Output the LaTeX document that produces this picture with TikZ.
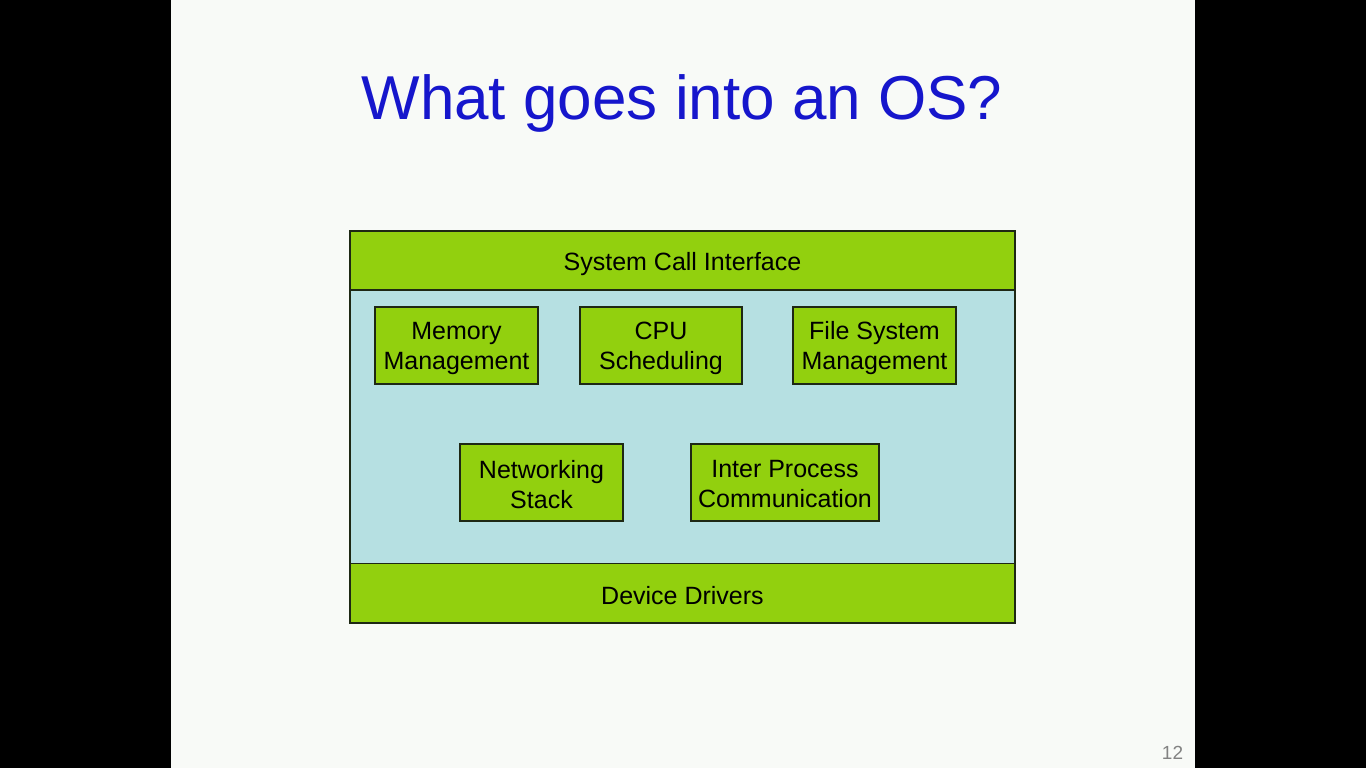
\documentclass[tikz,border=0pt]{standalone}
\usepackage{fontspec}
\setmainfont{Liberation Sans}
\definecolor{slidebg}{RGB}{248,250,247}
\definecolor{layergreen}{RGB}{146,208,14}
\definecolor{kernelblue}{RGB}{182,224,226}
\definecolor{titleblue}{RGB}{22,22,204}
\definecolor{edgedark}{RGB}{30,40,20}
\definecolor{pagegrey}{RGB}{130,130,130}
\tikzset{
  greenbox/.style={draw=edgedark, line width=1.2pt, fill=layergreen, inner sep=0pt},
  layerbar/.style={greenbox, minimum width=665, minimum height=59},
  modbox/.style={greenbox, minimum height=77},
  boxtext/.style={align=center, font=\fontsize{25}{30}\selectfont, text=black, inner sep=0pt},
}
\begin{document}
\begin{tikzpicture}[x=1pt,y=-1pt]
  \useasboundingbox (0,0) rectangle (1366,768);
  % screen frame and slide
  \fill[black] (0,0) rectangle (1366,768);
  \fill[slidebg] (171,0) rectangle (1195,768);

  % title
  \node[text=titleblue, font=\fontsize{62}{70}\selectfont, anchor=base] (title) at (682,119) {What goes into an OS?};

  % kernel body
  \node[draw=edgedark, line width=1.2pt, fill=kernelblue, minimum width=665, minimum height=392, inner sep=0pt] (kernel) at (682.5,427) {};

  % top and bottom layers
  \node[layerbar] (syscall) at (682.5,260.5) {};
  \node[layerbar] (drivers) at (682.5,593) {};
  \node[boxtext] (syscalltext) at ([yshift=-3.5pt]syscall.center) {System Call Interface};
  \node[boxtext] (driverstext) at ([yshift=-2.5pt]drivers.center) {Device Drivers};

  % kernel subsystems
  \node[modbox, minimum width=163] (mem) at (456.5,345.5) {};
  \node[modbox, minimum width=162] (cpu) at (661,345.5) {};
  \node[modbox, minimum width=163] (fs) at (874.5,345.5) {};
  \node[modbox, minimum width=163] (net) at (541.5,482.5) {};
  \node[modbox, minimum width=188] (ipc) at (785,482.5) {};
  \node[boxtext] (memtext) at ([yshift=-3pt]mem.center) {Memory\\Management};
  \node[boxtext] (cputext) at ([yshift=-3pt]cpu.center) {CPU\\Scheduling};
  \node[boxtext] (fstext) at ([yshift=-3pt]fs.center) {File System\\Management};
  \node[boxtext] (nettext) at ([yshift=-2pt]net.center) {Networking\\Stack};
  \node[boxtext] (ipctext) at ([yshift=-2pt]ipc.center) {Inter Process\\Communication};

  % page number
  \node[text=pagegrey, font=\fontsize{19}{22}\selectfont, anchor=base] (page) at (1172.5,759) {12};
\end{tikzpicture}
\end{document}
